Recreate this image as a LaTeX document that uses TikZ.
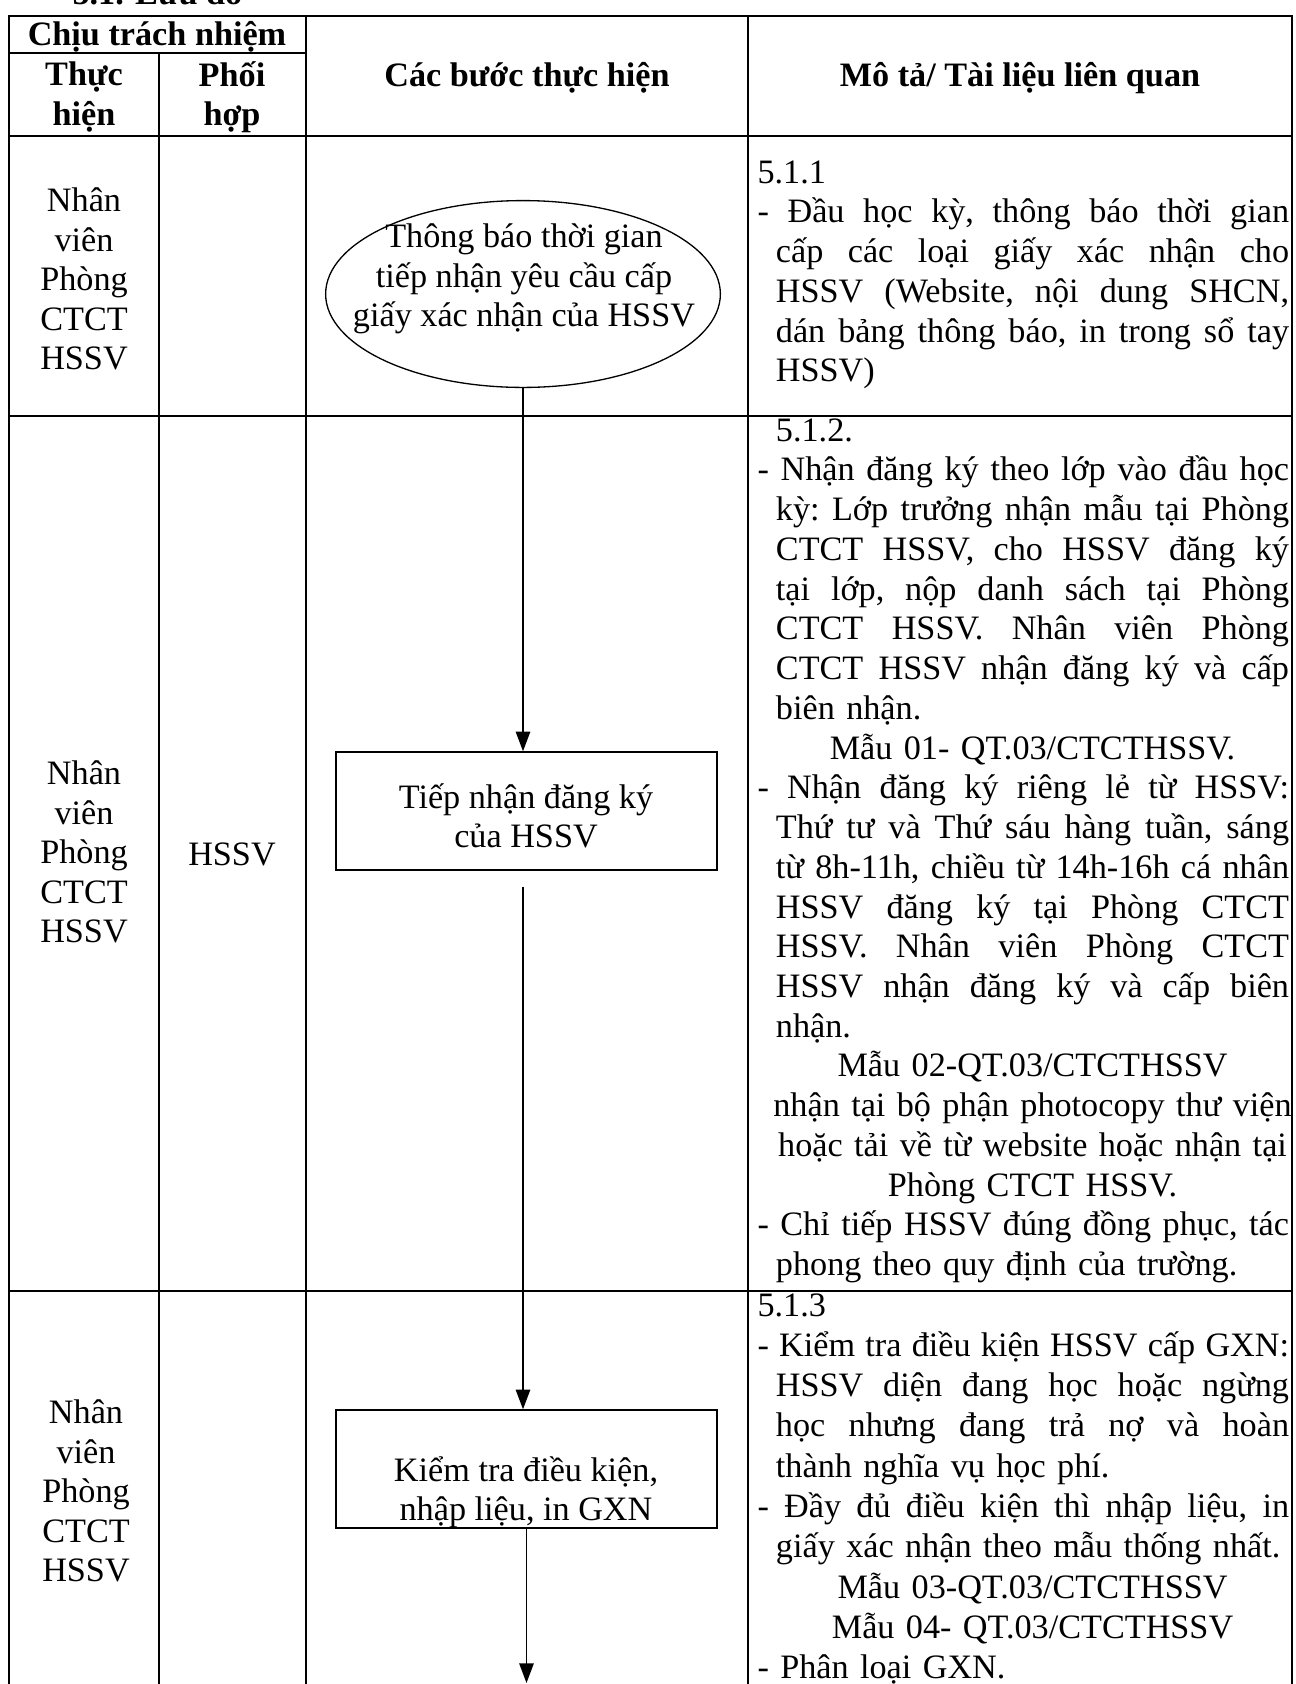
\documentclass[tikz,border=0pt]{standalone}
\usepackage{fontspec}
\setmainfont{Liberation Serif}
\usepackage{tikz}
\usetikzlibrary{shapes.geometric, arrows.meta}

\newlength{\descw}\setlength{\descw}{202pt}
\newlength{\hangw}\setlength{\hangw}{7pt}
\newcommand{\wsp}{\spaceskip=0.25em plus 1em minus 0.1em\relax}
\newcommand{\jfirst}[1]{\makebox[\descw][s]{\wsp #1}}
\newcommand{\jcont}[1]{\hspace*{\hangw}\makebox[\dimexpr\descw-\hangw\relax][s]{\wsp #1}}
\newcommand{\lcont}[1]{\hspace*{\hangw}#1}
\newcommand{\ccont}[1]{\hspace*{\hangw}\makebox[\dimexpr\descw-\hangw\relax][c]{#1}}

\begin{document}
\begin{tikzpicture}[x=0.38pt, y=-0.38pt,
    hdr/.style={font=\fontsize{13}{15}\selectfont\bfseries, align=center, inner sep=0pt},
    cell/.style={font=\fontsize{13}{15}\selectfont, align=center, inner sep=0pt},
    desc/.style={font=\fontsize{13}{15.1}\selectfont\frenchspacing, text width=\descw, align=left, inner sep=0pt, anchor=north west},
    stepbox/.style={draw, line width=0.6pt, minimum width=144.8pt, minimum height=44.8pt, inner sep=0pt},
    startoval/.style={draw, ellipse, line width=0.5pt, minimum width=150pt, minimum height=71pt, inner sep=0pt},
    flow/.style={line width=0.6pt, -{Triangle[length=7.5pt, width=5.5pt]}},
    grid/.style={line width=0.8pt}]

    \useasboundingbox (0,0) rectangle (1295,1684);

    %% --- Title (cut at the top) ---
    \node[hdr, anchor=base west] (title) at (72,4) {5.1. Lưu đồ};

    %% --- Table lines ---
    \draw[grid] (9,1684) -- (9,16) -- (1292,16) -- (1292,1684);
    \draw[grid] (159,53) -- (159,1684);
    \draw[grid] (306,16) -- (306,1684);
    \draw[grid] (748,16) -- (748,1684);
    \draw[grid] (9,53) -- (306,53);
    \draw[grid] (9,136) -- (1292,136);
    \draw[grid] (9,416) -- (1292,416);
    \draw[grid] (9,1291) -- (1292,1291);

    %% --- Header ---
    \node[hdr] (resp) at (157,37) {Chịu trách nhiệm};
    \node[hdr] (exec) at (84,97) {Thực\\hiện};
    \node[hdr] (coop) at (232,97) {Phối\\hợp};
    \node[hdr] (steps) at (527,78) {Các bước thực hiện};
    \node[hdr] (docs) at (1020,78) {Mô tả/ Tài liệu liên quan};

    %% --- Who does it ---
    \node[cell] (who1) at (84,279) {Nhân\\viên\\Phòng\\CTCT\\HSSV};
    \node[cell] (who2) at (84,852) {Nhân\\viên\\Phòng\\CTCT\\HSSV};
    \node[cell] (with2) at (232,854) {HSSV};
    \node[cell] (who3) at (86,1491) {Nhân\\viên\\Phòng\\CTCT\\HSSV};

    %% --- Steps ---
    \node[startoval] (start) at (523,294) {};
    \node[cell] (starttxt) at (524,279) {Thông báo thời gian\\tiếp nhận yêu cầu cấp\\giấy xác nhận của HSSV};

    \node[stepbox] (recv) at (526.5,811) {};
    \node[cell] (recvtxt) at (526,816) {Tiếp nhận đăng ký\\của HSSV};

    \node[stepbox] (check) at (526.5,1469) {};
    \node[cell] (checktxt) at (526,1492) {Kiểm tra điều kiện,\\nhập liệu, in GXN};

    \coordinate (next) at (526.5,1683);

    %% --- Arrows ---
    \draw[flow] (start.south) -- (start.south |- recv.north);
    \draw[flow, shorten <=6pt] (recv.south -| start.south) -- (start.south |- check.north);
    \draw[flow] (check.south) -- (next);

    %% --- Descriptions ---
    \node[desc] (desc1) at (757,160) {%
        5.1.1\\
        \jfirst{- Đầu học kỳ, thông báo thời gian}\\
        \jcont{cấp các loại giấy xác nhận cho}\\
        \jcont{HSSV (Website, nội dung SHCN,}\\
        \jcont{dán bảng thông báo, in trong sổ tay}\\
        \lcont{HSSV)}};

    \node[desc] (desc2) at (757,418) {%
        \lcont{5.1.2.}\\
        \jfirst{- Nhận đăng ký theo lớp vào đầu học}\\
        \jcont{kỳ: Lớp trưởng nhận mẫu tại Phòng}\\
        \jcont{CTCT HSSV, cho HSSV đăng ký}\\
        \jcont{tại lớp, nộp danh sách tại Phòng}\\
        \jcont{CTCT HSSV. Nhân viên Phòng}\\
        \jcont{CTCT HSSV nhận đăng ký và cấp}\\
        \lcont{biên nhận.}\\
        \ccont{Mẫu 01- QT.03/CTCTHSSV.}\\
        \jfirst{- Nhận đăng ký riêng lẻ từ HSSV:}\\
        \jcont{Thứ tư và Thứ sáu hàng tuần, sáng}\\
        \jcont{từ 8h-11h, chiều từ 14h-16h cá nhân}\\
        \jcont{HSSV đăng ký tại Phòng CTCT}\\
        \jcont{HSSV. Nhân viên Phòng CTCT}\\
        \jcont{HSSV nhận đăng ký và cấp biên}\\
        \lcont{nhận.}\\
        \ccont{Mẫu 02-QT.03/CTCTHSSV}\\
        \ccont{nhận tại bộ phận photocopy thư viện}\\
        \ccont{hoặc tải về từ website hoặc nhận tại}\\
        \ccont{Phòng CTCT HSSV.}\\
        \jfirst{- Chỉ tiếp HSSV đúng đồng phục, tác}\\
        \lcont{phong theo quy định của trường.}};

    \node[desc, font=\fontsize{13}{15.3}\selectfont\frenchspacing] (desc3) at (757,1293) {%
        5.1.3\\
        \jfirst{- Kiểm tra điều kiện HSSV cấp GXN:}\\
        \jcont{HSSV diện đang học hoặc ngừng}\\
        \jcont{học nhưng đang trả nợ và hoàn}\\
        \lcont{thành nghĩa vụ học phí.}\\
        \jfirst{- Đầy đủ điều kiện thì nhập liệu, in}\\
        \lcont{giấy xác nhận theo mẫu thống nhất.}\\
        \ccont{Mẫu 03-QT.03/CTCTHSSV}\\
        \ccont{Mẫu 04- QT.03/CTCTHSSV}\\
        - Phân loại GXN.};

\end{tikzpicture}
\end{document}
